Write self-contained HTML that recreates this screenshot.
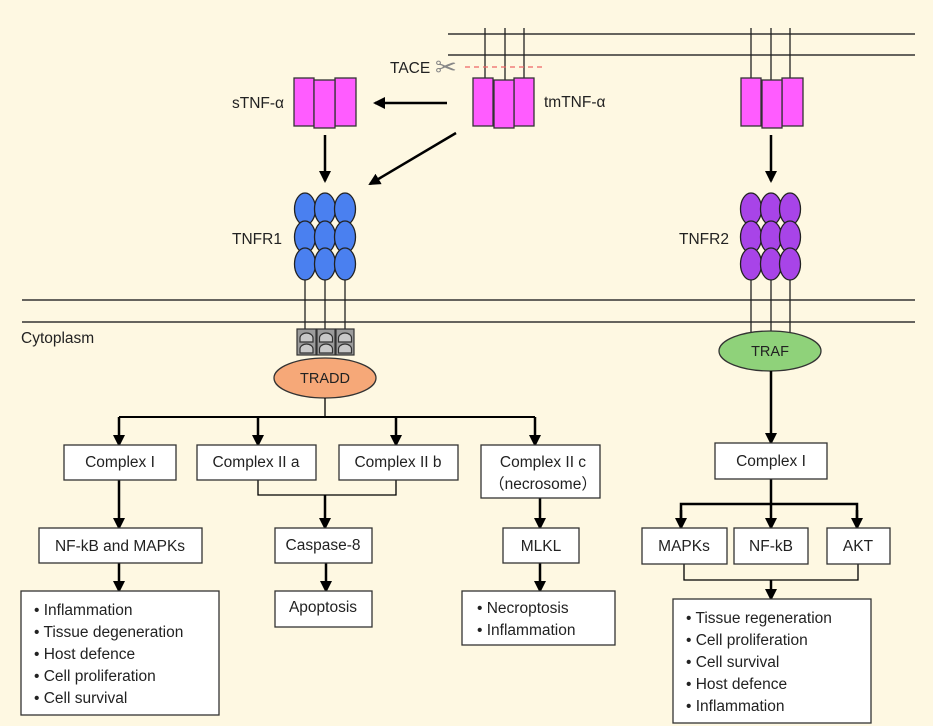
<!DOCTYPE html>
<html><head><meta charset="utf-8"><style>
html,body{margin:0;padding:0;background:#fef8e2;}
svg{display:block;}
text{font-family:"Liberation Sans","DejaVu Sans",sans-serif;fill:#222;}
</style></head><body>
<svg width="933" height="726" viewBox="0 0 933 726" xmlns="http://www.w3.org/2000/svg">
<defs>
<marker id="a" markerWidth="12" markerHeight="12" refX="10" refY="6" orient="auto" markerUnits="userSpaceOnUse">
<path d="M0,0 L12,6 L0,12 Z" fill="#000"/></marker>
</defs>
<rect width="933" height="726" fill="#fef8e2"/>
<g stroke="#333" stroke-width="1.5">
<line x1="448" y1="34" x2="915" y2="34"/>
<line x1="448" y1="55" x2="915" y2="55"/>
<line x1="22" y1="300" x2="915" y2="300"/>
<line x1="22" y1="322" x2="915" y2="322"/>
</g>
<g stroke="#222" stroke-width="1.3">
<line x1="485" y1="28" x2="485" y2="78"/><line x1="505" y1="28" x2="505" y2="80"/><line x1="524" y1="28" x2="524" y2="78"/>
<line x1="751" y1="28" x2="751" y2="78"/><line x1="771" y1="28" x2="771" y2="80"/><line x1="790" y1="28" x2="790" y2="78"/>
</g>
<line x1="465" y1="67" x2="542" y2="67" stroke="#e66" stroke-width="1.3" stroke-dasharray="5,4"/>
<text x="435" y="76" font-size="26" style="fill:#888">✂</text>
<text x="390" y="73" font-size="15.5">TACE</text>
<g fill="#ff5cff" stroke="#333" stroke-width="1.3">
<rect x="294" y="78" width="20" height="48"/><rect x="335" y="78" width="21" height="48"/><rect x="314" y="80" width="21" height="48"/>
<rect x="473" y="78" width="20" height="48"/><rect x="514" y="78" width="20" height="48"/><rect x="494" y="80" width="20" height="48"/>
<rect x="741" y="78" width="20" height="48"/><rect x="782" y="78" width="21" height="48"/><rect x="762" y="80" width="20" height="48"/>
</g>
<text x="232" y="108" font-size="15.5">sTNF-α</text>
<text x="544" y="107" font-size="15.5">tmTNF-α</text>
<g stroke="#000" stroke-width="2.5" marker-end="url(#a)">
<line x1="447" y1="103" x2="375" y2="103"/>
<line x1="325" y1="135" x2="325" y2="181"/>
<line x1="456" y1="133" x2="370" y2="184"/>
<line x1="771" y1="135" x2="771" y2="181"/>
</g>
<g stroke="#222" stroke-width="1.3">
<line x1="305" y1="270" x2="305" y2="331"/><line x1="325" y1="270" x2="325" y2="331"/><line x1="345" y1="270" x2="345" y2="331"/>
<line x1="751" y1="270" x2="751" y2="335"/><line x1="771" y1="270" x2="771" y2="335"/><line x1="790" y1="270" x2="790" y2="335"/>
</g>
<g fill="#4a80f0" stroke="#222" stroke-width="1.3">
<ellipse cx="305" cy="209" rx="10.5" ry="16"/><ellipse cx="325" cy="209" rx="10.5" ry="16"/><ellipse cx="345" cy="209" rx="10.5" ry="16"/>
<ellipse cx="305" cy="237" rx="10.5" ry="16"/><ellipse cx="325" cy="237" rx="10.5" ry="16"/><ellipse cx="345" cy="237" rx="10.5" ry="16"/>
<ellipse cx="305" cy="264" rx="10.5" ry="16"/><ellipse cx="325" cy="264" rx="10.5" ry="16"/><ellipse cx="345" cy="264" rx="10.5" ry="16"/>
</g>
<g fill="#a844e8" stroke="#222" stroke-width="1.3">
<ellipse cx="751" cy="209" rx="10.5" ry="16"/><ellipse cx="771" cy="209" rx="10.5" ry="16"/><ellipse cx="790" cy="209" rx="10.5" ry="16"/>
<ellipse cx="751" cy="237" rx="10.5" ry="16"/><ellipse cx="771" cy="237" rx="10.5" ry="16"/><ellipse cx="790" cy="237" rx="10.5" ry="16"/>
<ellipse cx="751" cy="264" rx="10.5" ry="16"/><ellipse cx="771" cy="264" rx="10.5" ry="16"/><ellipse cx="790" cy="264" rx="10.5" ry="16"/>
</g>
<text x="232" y="244" font-size="15.5">TNFR1</text>
<text x="679" y="244" font-size="15.5">TNFR2</text>
<text x="21" y="343" font-size="15.5">Cytoplasm</text>
<g stroke="#333" stroke-width="1.2">
<rect x="297" y="329" width="19" height="26" fill="#9c9c9c"/>
<rect x="317" y="329" width="18" height="26" fill="#9c9c9c"/>
<rect x="336" y="329" width="18" height="26" fill="#9c9c9c"/>
<g fill="#c8c8c8">
<path d="M300,342 v-4 a6.5,5 0 0 1 13,0 v4 z"/><path d="M300,353 v-4 a6.5,5 0 0 1 13,0 v4 z"/>
<path d="M319.5,342 v-4 a6.5,5 0 0 1 13,0 v4 z"/><path d="M319.5,353 v-4 a6.5,5 0 0 1 13,0 v4 z"/>
<path d="M338.5,342 v-4 a6.5,5 0 0 1 13,0 v4 z"/><path d="M338.5,353 v-4 a6.5,5 0 0 1 13,0 v4 z"/>
</g>
</g>
<ellipse cx="325" cy="378" rx="51" ry="20" fill="#f6a878" stroke="#333" stroke-width="1.3"/>
<text x="325" y="383" font-size="14.5" text-anchor="middle">TRADD</text>
<ellipse cx="770" cy="351" rx="51" ry="20" fill="#8fd27a" stroke="#333" stroke-width="1.3"/>
<text x="770" y="356" font-size="14.5" text-anchor="middle">TRAF</text>
<g stroke="#000" stroke-width="1.3" fill="none">
<line x1="325" y1="398" x2="325" y2="417"/>
<polyline points="258,480 258,495 396,495 396,480"/>
<polyline points="684,564 684,580 858,580 858,564"/>
</g>
<line x1="119" y1="417" x2="535" y2="417" stroke="#000" stroke-width="2"/>
<g stroke="#000" stroke-width="2.5" marker-end="url(#a)">
<line x1="119" y1="417" x2="119" y2="445"/>
<line x1="258" y1="417" x2="258" y2="445"/>
<line x1="396" y1="417" x2="396" y2="445"/>
<line x1="535" y1="417" x2="535" y2="445"/>
<line x1="119" y1="480" x2="119" y2="528"/>
<line x1="325" y1="495" x2="325" y2="528"/>
<line x1="540" y1="498" x2="540" y2="528"/>
<line x1="119" y1="563" x2="119" y2="591"/>
<line x1="326" y1="563" x2="326" y2="591"/>
<line x1="540" y1="563" x2="540" y2="591"/>
<line x1="771" y1="371" x2="771" y2="443"/>
<line x1="771" y1="479" x2="771" y2="528"/>
<line x1="771" y1="580" x2="771" y2="599"/>
</g>
<g stroke="#000" stroke-width="2.5" fill="none">
<polyline points="681,528 681,504 857,504 857,528"/>
</g>
<g stroke="#000" stroke-width="2.5" marker-end="url(#a)">
<line x1="681" y1="510" x2="681" y2="528"/>
<line x1="857" y1="510" x2="857" y2="528"/>
</g>
<g fill="#fff" stroke="#333" stroke-width="1.3">
<rect x="64" y="445" width="112" height="35"/>
<rect x="197" y="445" width="119" height="35"/>
<rect x="339" y="445" width="119" height="35"/>
<rect x="481" y="445" width="119" height="53"/>
<rect x="39" y="528" width="163" height="35"/>
<rect x="275" y="528" width="97" height="35"/>
<rect x="503" y="528" width="76" height="35"/>
<rect x="21" y="591" width="198" height="124"/>
<rect x="275" y="591" width="97" height="36"/>
<rect x="462" y="591" width="153" height="54"/>
<rect x="715" y="443" width="112" height="36"/>
<rect x="642" y="528" width="85" height="36"/>
<rect x="734" y="528" width="74" height="36"/>
<rect x="827" y="528" width="63" height="36"/>
<rect x="673" y="599" width="198" height="124"/>
</g>
<g font-size="15.5" text-anchor="middle">
<text x="120" y="467">Complex I</text>
<text x="256" y="467">Complex II a</text>
<text x="398" y="467">Complex II b</text>
<text x="543" y="467">Complex II c</text>
<text x="543" y="489">（necrosome）</text>
<text x="120" y="551">NF-kB and MAPKs</text>
<text x="323" y="550">Caspase-8</text>
<text x="541" y="551">MLKL</text>
<text x="323" y="612">Apoptosis</text>
<text x="771" y="466">Complex I</text>
<text x="684" y="551">MAPKs</text>
<text x="771" y="551">NF-kB</text>
<text x="858" y="551">AKT</text>
</g>
<g font-size="15.5">
<text x="34" y="615">• Inflammation</text>
<text x="34" y="637">• Tissue degeneration</text>
<text x="34" y="659">• Host defence</text>
<text x="34" y="681">• Cell proliferation</text>
<text x="34" y="703">• Cell survival</text>
<text x="477" y="613">• Necroptosis</text>
<text x="477" y="635">• Inflammation</text>
<text x="686" y="623">• Tissue regeneration</text>
<text x="686" y="645">• Cell proliferation</text>
<text x="686" y="667">• Cell survival</text>
<text x="686" y="689">• Host defence</text>
<text x="686" y="711">• Inflammation</text>
</g>
</svg>
</body></html>
